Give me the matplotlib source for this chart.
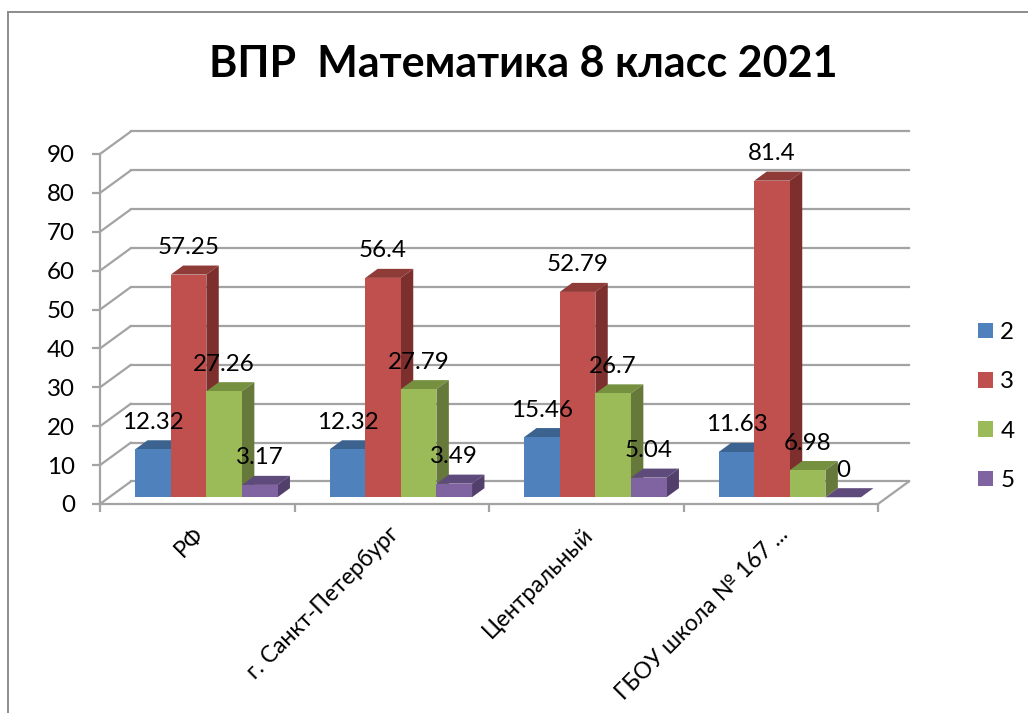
import matplotlib
matplotlib.use("Agg")
import matplotlib.pyplot as plt
from matplotlib.lines import Line2D

FONT = 'Lato'
plt.rcParams['font.family'] = [FONT, 'Open Sans', 'DejaVu Sans']

title = "ВПР  Математика 8 класс 2021"
categories = ["РФ", "г. Санкт-Петербург", "Центральный", "ГБОУ школа № 167 ..."]
series_names = ["2", "3", "4", "5"]
s2 = [12.32, 12.32, 15.46, 11.63]
s3 = [57.25, 56.4, 52.79, 81.4]
s4 = [27.26, 27.79, 26.7, 6.98]
s5 = [3.17, 3.49, 5.04, 0]
series = [s2, s3, s4, s5]
value_labels = [["12.32", "12.32", "15.46", "11.63"],
                ["57.25", "56.4", "52.79", "81.4"],
                ["27.26", "27.79", "26.7", "6.98"],
                ["3.17", "3.49", "5.04", "0"]]
yticks = list(range(0, 100, 10))

front = ['#4F81BD', '#C0504D', '#9BBB59', '#8064A2']
top = ['#3C6390', '#8F3C39', '#75903F', '#5F4A7C']
side = ['#34557C', '#7C2F2D', '#66793A', '#523F6B']
GRID = '#A3A3A3'
FS = 17.4

W, H = 1028, 713
fig = plt.figure(figsize=(W/100, H/100), dpi=100, facecolor='white')
ax = fig.add_axes([100/W, 1-504/H, 778/W, 350/H])
ax.set_xlim(0, 4)
ax.set_ylim(0, 90)
ax.patch.set_alpha(0)

DX, DY = 31/194.5, 22.6/3.889
d0, d1 = 0.30, 0.70
bw, gap = 0.183, 0.133

lw = 1.6
for v in yticks:
    ax.plot([0, DX], [v, v+DY], color=GRID, lw=lw, clip_on=False, zorder=1, solid_capstyle='round')
    ax.plot([DX, 4+DX], [v+DY, v+DY], color=GRID, lw=lw, clip_on=False, zorder=1)
ax.plot([4, 4+DX], [0, DY], color=GRID, lw=lw, clip_on=False, zorder=1)

handles = []
z = 3
for j, vals in enumerate(series):
    lefts = [i + gap + j*bw + d0*DX for i in range(4)]
    bars = ax.bar(lefts, vals, width=bw, bottom=d0*DY, align='edge', color=front[j],
                  linewidth=0, zorder=z+1, clip_on=False)
    handles.append(bars[0])
    for x, v, txt in zip(lefts, vals, value_labels[j]):
        b = d0*DY
        ddx, ddy = (d1-d0)*DX, (d1-d0)*DY
        ax.fill([x, x+bw, x+bw+ddx, x+ddx], [b+v, b+v, b+v+ddy, b+v+ddy],
                color=top[j], lw=0, zorder=z, clip_on=False)
        ax.fill([x+bw, x+bw+ddx, x+bw+ddx, x+bw], [b, b+ddy, b+v+ddy, b+v],
                color=side[j], lw=0, zorder=z, clip_on=False)
        ax.annotate(txt, (x+bw/2, b+v), xytext=(0, 27*0.72), textcoords='offset points',
                    ha='center', va='center', fontsize=FS, color='black', zorder=50,
                    annotation_clip=False)
    z += 2

for s in ['top', 'right']:
    ax.spines[s].set_visible(False)
for s in ['left', 'bottom']:
    ax.spines[s].set_color(GRID)
    ax.spines[s].set_linewidth(lw)

ax.set_yticks(yticks)
ax.set_yticklabels([str(v) for v in yticks], fontsize=FS)
ax.tick_params(axis='y', length=5.5, width=lw, color=GRID, pad=12.5)
ax.set_xticks(range(5))
ax.set_xticklabels([])
ax.tick_params(axis='x', which='major', length=5.5, width=lw, color=GRID)
ax.set_xticks([i+0.48 for i in range(4)], minor=True)
ax.set_xticklabels(categories, minor=True, rotation=45, ha='right', va='top',
                   rotation_mode='anchor', fontsize=16.5)
ax.tick_params(axis='x', which='minor', length=0, pad=14)

fig.text(523/W, 1-64/H, title, ha='center', va='center', fontsize=31, fontweight='bold')

ax.legend(handles=handles, labels=series_names, loc='center left', bbox_to_anchor=(978/W, 1-406.5/H),
          bbox_transform=fig.transFigure, frameon=False, fontsize=FS,
          handlelength=0.62, handleheight=0.62, handletextpad=0.3, labelspacing=1.17,
          borderpad=0, borderaxespad=0)

fig.add_artist(Line2D([7.5/W, 7.5/W], [0, 1-11.5/H], color='#8C8C8C', lw=1.4))
fig.add_artist(Line2D([7.5/W, 1], [1-11.5/H, 1-11.5/H], color='#8C8C8C', lw=1.4))

fig.savefig('out.png', dpi=100, facecolor='white')
